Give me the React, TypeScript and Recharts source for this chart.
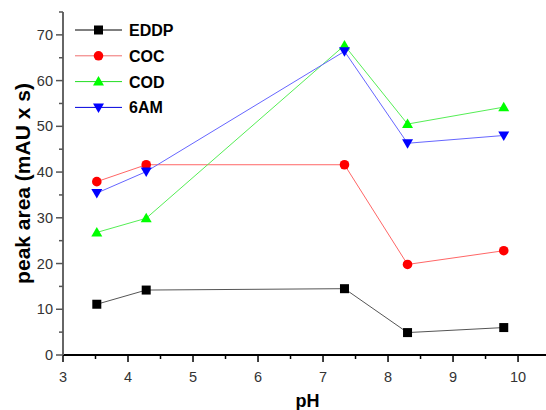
import React from 'react';
import { LineChart, Line, XAxis, YAxis, Legend } from 'recharts';

// pH of each measurement
const PH = [3.52, 4.28, 7.33, 8.3, 9.78];

// peak areas (mAU x s) per analyte
const EDDP = [11.1, 14.2, 14.5, 4.9, 6.0];
const COC = [37.9, 41.6, 41.6, 19.8, 22.8];
const COD = [26.8, 29.9, 67.7, 50.5, 54.2];
const SIX_AM = [35.4, 40.1, 66.4, 46.3, 48.0];

// axis ticks (integers get labels, halves are minor ticks)
const X_TICKS = [3, 3.5, 4, 4.5, 5, 5.5, 6, 6.5, 7, 7.5, 8, 8.5, 9, 9.5, 10];
const Y_TICKS = [0, 5, 10, 15, 20, 25, 30, 35, 40, 45, 50, 55, 60, 65, 70, 75];

const FONT = '"Liberation Sans", Arial, Helvetica, sans-serif';

type Marker = 'square' | 'circle' | 'up' | 'down';

const SERIES: { key: string; name: string; values: number[]; stroke: string; legendStroke: string; fill: string; marker: Marker }[] = [
  { key: 'eddp', name: 'EDDP', values: EDDP, stroke: '#555555', legendStroke: '#000000', fill: '#000000', marker: 'square' },
  { key: 'coc', name: 'COC', values: COC, stroke: '#ff6666', legendStroke: '#f07070', fill: '#ff0000', marker: 'circle' },
  { key: 'cod', name: 'COD', values: COD, stroke: '#55ee55', legendStroke: '#22dd22', fill: '#00ff00', marker: 'up' },
  { key: 'sixam', name: '6AM', values: SIX_AM, stroke: '#6666ff', legendStroke: '#0000dd', fill: '#0000ff', marker: 'down' },
];

const data = PH.map((ph, i) => {
  const row: Record<string, number> = { ph };
  SERIES.forEach((s) => {
    row[s.key] = s.values[i];
  });
  return row;
});

function drawMarker(marker: Marker, cx: number, cy: number, fill: string, key?: string) {
  if (marker === 'square') {
    return <rect key={key} x={cx - 4.5} y={cy - 4.5} width={9} height={9} fill={fill} />;
  }
  if (marker === 'circle') {
    return <circle key={key} cx={cx} cy={cy} r={4.8} fill={fill} />;
  }
  if (marker === 'up') {
    return <polygon key={key} points={`${cx},${cy - 5.5} ${cx + 5.5},${cy + 4} ${cx - 5.5},${cy + 4}`} fill={fill} />;
  }
  return <polygon key={key} points={`${cx},${cy + 5.5} ${cx + 5.5},${cy - 4} ${cx - 5.5},${cy - 4}`} fill={fill} />;
}

const makeDot = (marker: Marker, fill: string) => (props: any) => {
  const { cx, cy, index } = props;
  if (cx == null || cy == null) return <g key={index} />;
  return drawMarker(marker, cx, cy, fill, `m-${index}`);
};

const XTick = (props: any) => {
  const { x, y, payload } = props;
  const v = payload.value as number;
  const major = Number.isInteger(v);
  return (
    <g>
      <line x1={x} x2={x} y1={y} y2={y + (major ? 7 : 4)} stroke="#000" strokeWidth={1.5} />
      {major && (
        <text x={x} y={y + 27} textAnchor="middle" fontSize={14.5} fill="#333" fontFamily={FONT}>
          {v}
        </text>
      )}
    </g>
  );
};

const YTick = (props: any) => {
  const { x, y, payload } = props;
  const v = payload.value as number;
  const major = v % 10 === 0;
  return (
    <g>
      <line x1={x - (major ? 7 : 4)} x2={x} y1={y} y2={y} stroke="#555" strokeWidth={1.5} />
      {major && (
        <text x={x - 10} y={y + 5} textAnchor="end" fontSize={14.5} fill="#333" fontFamily={FONT}>
          {v}
        </text>
      )}
    </g>
  );
};

const YTitle = (props: any) => {
  const { viewBox } = props;
  const cx = viewBox.x + 30;
  const cy = viewBox.y + viewBox.height / 2;
  return (
    <text
      transform={`translate(${cx}, ${cy}) rotate(-90)`}
      textAnchor="middle"
      fontSize={21}
      fontWeight="bold"
      fill="#000"
      fontFamily={FONT}
    >
      peak area (mAU x s)
    </text>
  );
};

const XTitle = (props: any) => {
  const { viewBox } = props;
  return (
    <text
      x={viewBox.x + viewBox.width / 2 + 3}
      y={viewBox.y + 52}
      textAnchor="middle"
      fontSize={18}
      fontWeight="bold"
      fill="#000"
      fontFamily={FONT}
    >
      pH
    </text>
  );
};

const LegendBox = () => (
  <svg width={160} height={104}>
    {SERIES.map((s, i) => {
      const cy = 14 + i * 25.8;
      return (
        <g key={s.key}>
          <line x1={5} x2={52} y1={cy} y2={cy} stroke={s.legendStroke} strokeWidth={1} />
          {drawMarker(s.marker, 28.5, cy, s.fill)}
          <text x={59} y={cy + 6} fontSize={16} fontWeight="bold" fill="#000" fontFamily={FONT}>
            {s.name}
          </text>
        </g>
      );
    })}
  </svg>
);

export default function App() {
  return (
    <div style={{ position: 'absolute', left: 0, top: 0, width: 546, height: 410, background: '#fff' }}>
      <LineChart width={546} height={410} data={data} margin={{ top: 12, right: 0, bottom: 0, left: 0 }}>
        <XAxis
          dataKey="ph"
          type="number"
          domain={[3, 10.43]}
          ticks={X_TICKS}
          interval={0}
          allowDataOverflow
          height={55}
          tickSize={0}
          tickMargin={0}
          tickLine={false}
          tick={<XTick />}
          axisLine={{ stroke: '#000', strokeWidth: 2 }}
          label={<XTitle />}
        />
        <YAxis
          type="number"
          domain={[0, 75]}
          ticks={Y_TICKS}
          interval={0}
          allowDataOverflow
          width={63}
          tickSize={0}
          tickMargin={0}
          tickLine={false}
          tick={<YTick />}
          axisLine={{ stroke: '#666', strokeWidth: 2 }}
          label={<YTitle />}
        />
        <Legend
          layout="vertical"
          align="center"
          verticalAlign="middle"
          content={<LegendBox />}
          wrapperStyle={{ position: 'absolute', left: 70, top: 16, width: 160, height: 104 }}
        />
        {SERIES.map((s) => (
          <Line
            key={s.key}
            dataKey={s.key}
            name={s.name}
            type="linear"
            stroke={s.stroke}
            strokeWidth={1}
            dot={makeDot(s.marker, s.fill)}
            activeDot={false}
            isAnimationActive={false}
          />
        ))}
      </LineChart>
    </div>
  );
}
